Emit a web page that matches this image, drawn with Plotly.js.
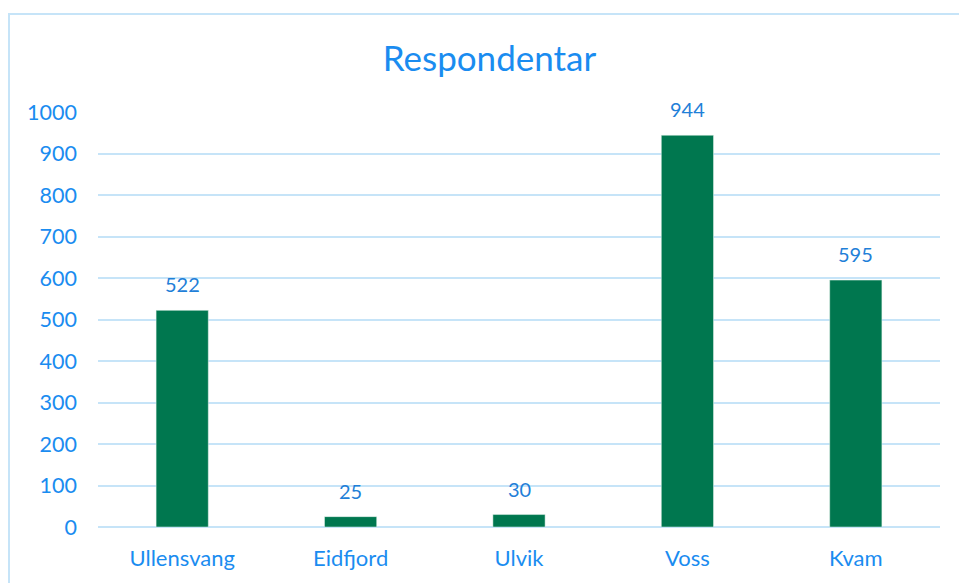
<!DOCTYPE html>
<html><head><meta charset="utf-8">
<script src="https://cdn.plot.ly/plotly-3.0.1.min.js"></script>
<style>html,body{margin:0;padding:0;background:#fff}#c{width:959px;height:583px}</style>
</head><body><div id="c"></div>
<script>
const categories = ["Ullensvang","Eidfjord","Ulvik","Voss","Kvam"];
const values = [522, 25, 30, 944, 595];
const yTicks = [0,100,200,300,400,500,600,700,800,900,1000];

const blue = "#1a8cf0";
const font = "Lato, 'Open Sans', sans-serif";

const trace = {
  type: "bar",
  x: categories,
  y: values,
  marker: {color: "#00774F", line: {color: "#e8f4ee", width: 0.5}},
  hoverinfo: "none"
};

const annotations = categories.map((c, i) => ({
  x: c, y: values[i], xref: "x", yref: "y",
  text: String(values[i]), showarrow: false,
  yanchor: "bottom", yshift: 12,
  font: {family: font, size: 20, color: "#1f80d8"}
}));

const layout = {
  width: 959, height: 583,
  margin: {l: 98, r: 19, t: 112, b: 56},
  paper_bgcolor: "#fff", plot_bgcolor: "#fff",
  bargap: 0.69,
  title: {text: "Respondentar", font: {family: font, size: 35, color: blue}, x: 0.5104, xanchor: "center", y: 0.9, yanchor: "middle"},
  xaxis: {
    tickfont: {family: font, size: 22, color: blue},
    showgrid: false, showline: false, zeroline: false, ticks: "",
    ticklabelstandoff: 16
  },
  yaxis: {
    range: [0, 1000], tickvals: yTicks, ticktext: yTicks.map(String),
    tickfont: {family: font, size: 21.5, color: blue},
    gridcolor: "#c6e4f8", gridwidth: 2,
    zeroline: true, zerolinecolor: "#c6e4f8", zerolinewidth: 2,
    showline: false, ticks: "",
    ticklabelstandoff: 20
  },
  annotations: annotations,
  shapes: [{
    type: "rect", xref: "paper", yref: "paper",
    x0: -0.1057, x1: 2, y0: -1, y1: 1.236,
    line: {color: "#c6e4f8", width: 2}, fillcolor: "rgba(0,0,0,0)", layer: "below"
  }],
  showlegend: false
};

Plotly.newPlot("c", [trace], layout, {displayModeBar: false, staticPlot: true});
</script></body></html>
